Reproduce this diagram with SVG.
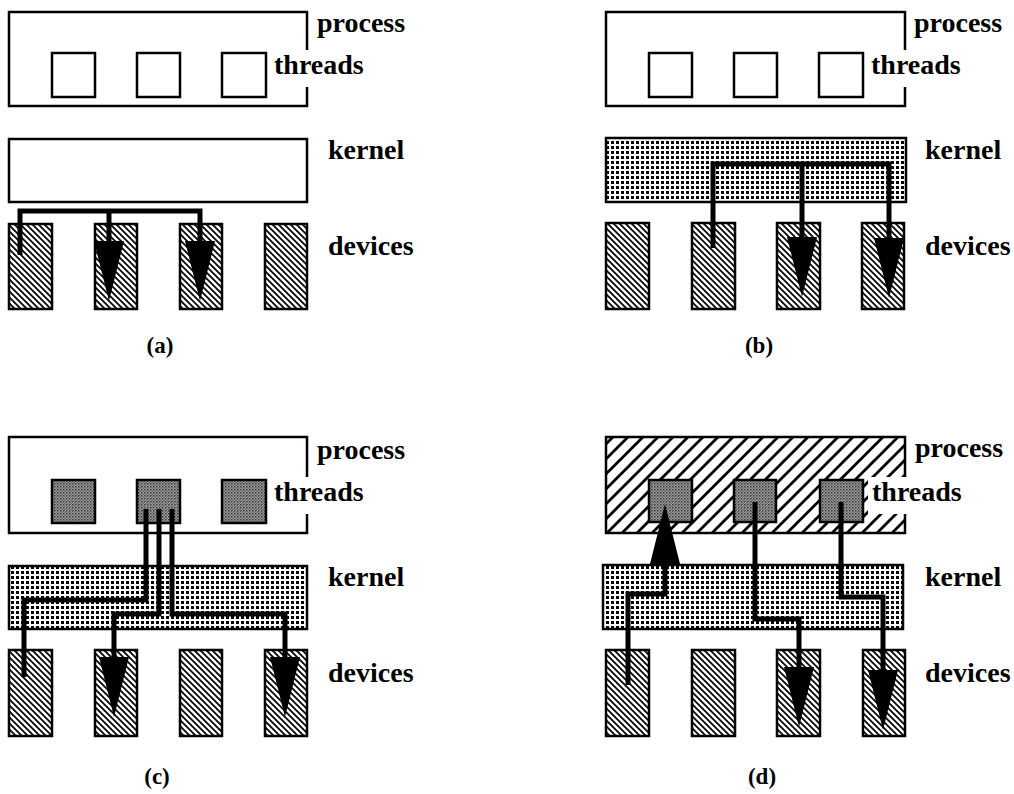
<svg xmlns="http://www.w3.org/2000/svg" width="1014" height="794" viewBox="0 0 1014 794">
<style>
.box{stroke:#000;stroke-width:2.5;}
.w{fill:#fff;}
.dev{fill:url(#hatchDev);}
.ker{fill:url(#dots);}
.thg{fill:url(#gray);}
.ph{fill:url(#hatchProc);}
.lbl{font-family:"Liberation Serif","Times New Roman",serif;font-weight:bold;font-size:28px;fill:#000;}
.cap{font-family:"Liberation Serif","Times New Roman",serif;font-weight:bold;font-size:23px;fill:#000;text-anchor:middle;}
.wire{fill:none;stroke:#000;stroke-width:5;stroke-linejoin:miter;stroke-linecap:butt;}
.arr{marker-end:url(#head);}
</style>
<defs>
<pattern id="hatchDev" patternUnits="userSpaceOnUse" width="6" height="6">
<rect width="6" height="6" fill="#fff"/>
<path d="M-1,-1 L7,7 M-4,2 L2,8 M2,-4 L8,2" stroke="#000" stroke-width="1.7"/>
</pattern>
<pattern id="dots" patternUnits="userSpaceOnUse" width="5" height="5">
<rect width="5" height="5" fill="#fff"/>
<rect x="1" y="1" width="3" height="3" fill="#000"/>
</pattern>
<pattern id="gray" patternUnits="userSpaceOnUse" width="3" height="3">
<rect width="3" height="3" fill="#a0a0a0"/>
<rect width="1.5" height="1.5" fill="#333"/>
<rect x="1.5" y="1.5" width="1.5" height="1.5" fill="#666"/>
</pattern>
<pattern id="hatchProc" patternUnits="userSpaceOnUse" width="15" height="15">
<rect width="15" height="15" fill="#fff"/>
<path d="M0,15 L15,0 M-3,3 L3,-3 M12,18 L18,12" stroke="#000" stroke-width="2.8"/>
</pattern>
<marker id="head" markerUnits="userSpaceOnUse" markerWidth="60" markerHeight="30" viewBox="0 -15 60 30" refX="0" refY="0" orient="auto" overflow="visible">
<path d="M0,-15 L60,0 L0,15 Z" fill="#000"/>
</marker>
</defs>

<!-- Panel (a) -->
<g id="a-process"><rect class="box w" x="9" y="12" width="298" height="94"/></g>
<g id="a-thread1"><rect class="box w" x="52" y="53" width="43" height="44"/></g>
<g id="a-thread2"><rect class="box w" x="137" y="53" width="43" height="44"/></g>
<g id="a-thread3"><rect class="box w" x="222" y="53" width="44" height="44"/></g>
<g id="a-kernel"><rect class="box w" x="9" y="139" width="298" height="63"/></g>
<g id="a-dev1"><rect class="box dev" x="9" y="224" width="43" height="85"/></g>
<g id="a-dev2"><rect class="box dev" x="95" y="224" width="42" height="85"/></g>
<g id="a-dev3"><rect class="box dev" x="180" y="224" width="42" height="85"/></g>
<g id="a-dev4"><rect class="box dev" x="265" y="224" width="42" height="85"/></g>
<g id="a-labels">
<text class="lbl" x="317" y="32">process</text>
<rect x="272" y="50" width="94" height="37" fill="#fff"/>
<text class="lbl" x="274" y="74">threads</text>
<text class="lbl" x="328" y="159">kernel</text>
<text class="lbl" x="328" y="255">devices</text>
<text class="cap" x="160" y="353">(a)</text>
</g>

<!-- Panel (b) -->
<g id="b-process"><rect class="box w" x="606" y="12" width="299" height="94"/></g>
<g id="b-thread1"><rect class="box w" x="649" y="53" width="43" height="44"/></g>
<g id="b-thread2"><rect class="box w" x="734" y="53" width="43" height="44"/></g>
<g id="b-thread3"><rect class="box w" x="819" y="53" width="44" height="44"/></g>
<g id="b-kernel"><rect class="box ker" x="606" y="138" width="300" height="64"/></g>
<g id="b-dev1"><rect class="box dev" x="606" y="223" width="43" height="86"/></g>
<g id="b-dev2"><rect class="box dev" x="692" y="223" width="43" height="86"/></g>
<g id="b-dev3"><rect class="box dev" x="777" y="223" width="43" height="86"/></g>
<g id="b-dev4"><rect class="box dev" x="862" y="223" width="42" height="86"/></g>
<g id="b-labels">
<text class="lbl" x="914" y="32">process</text>
<rect x="869" y="50" width="94" height="37" fill="#fff"/>
<text class="lbl" x="871" y="74">threads</text>
<text class="lbl" x="925" y="159">kernel</text>
<text class="lbl" x="925" y="255">devices</text>
<text class="cap" x="759" y="353">(b)</text>
</g>

<!-- Panel (c) -->
<g id="c-process"><rect class="box w" x="9" y="437" width="298" height="96"/></g>
<g id="c-thread1"><rect class="box thg" x="52" y="480" width="43" height="43"/></g>
<g id="c-thread2"><rect class="box thg" x="137" y="480" width="43" height="43"/></g>
<g id="c-thread3"><rect class="box thg" x="222" y="480" width="44" height="43"/></g>
<g id="c-kernel"><rect class="box ker" x="9" y="566" width="298" height="63"/></g>
<g id="c-dev1"><rect class="box dev" x="9" y="650" width="43" height="86"/></g>
<g id="c-dev2"><rect class="box dev" x="95" y="650" width="42" height="86"/></g>
<g id="c-dev3"><rect class="box dev" x="180" y="650" width="42" height="86"/></g>
<g id="c-dev4"><rect class="box dev" x="265" y="650" width="42" height="86"/></g>
<g id="c-labels">
<text class="lbl" x="317" y="459">process</text>
<rect x="272" y="477" width="94" height="37" fill="#fff"/>
<text class="lbl" x="274" y="501">threads</text>
<text class="lbl" x="328" y="586">kernel</text>
<text class="lbl" x="328" y="682">devices</text>
<text class="cap" x="157" y="784">(c)</text>
</g>

<!-- Panel (d) -->
<g id="d-process"><rect class="box ph" x="606" y="437" width="299" height="96"/></g>
<g id="d-thread1"><rect class="box thg" x="649" y="480" width="43" height="42"/></g>
<g id="d-thread2"><rect class="box thg" x="734" y="480" width="42" height="42"/></g>
<g id="d-thread3"><rect class="box thg" x="820" y="480" width="43" height="42"/></g>
<g id="d-kernel"><rect class="box ker" x="603" y="565" width="300" height="64"/></g>
<g id="d-dev1"><rect class="box dev" x="606" y="650" width="43" height="86"/></g>
<g id="d-dev2"><rect class="box dev" x="692" y="650" width="43" height="86"/></g>
<g id="d-dev3"><rect class="box dev" x="777" y="650" width="43" height="86"/></g>
<g id="d-dev4"><rect class="box dev" x="863" y="650" width="42" height="86"/></g>
<g id="d-labels">
<text class="lbl" x="915" y="457">process</text>
<rect x="868" y="477" width="94" height="37" fill="#fff"/>
<text class="lbl" x="872" y="501">threads</text>
<text class="lbl" x="925" y="586">kernel</text>
<text class="lbl" x="925" y="682">devices</text>
<text class="cap" x="762" y="784">(d)</text>
</g>

<!-- Connectors -->
<g id="connectors">
<path class="wire arr" d="M20,255 V211 H200 V241"/>
<path class="wire arr" d="M109,211 V241"/>
<path class="wire arr" d="M713,248 V164 H889 V238"/>
<path class="wire arr" d="M802,164 V237"/>
<path class="wire" d="M146,509 V600 H24 V677"/>
<path class="wire arr" d="M159,509 V614 H114 V657"/>
<path class="wire arr" d="M172,509 V614 H285 V657"/>
<path class="wire arr" d="M628,685 V594 H665 V564"/>
<path class="wire arr" d="M755,502 V619 H799 V667"/>
<path class="wire arr" d="M841,502 V597 H883 V670"/>
</g>
</svg>
